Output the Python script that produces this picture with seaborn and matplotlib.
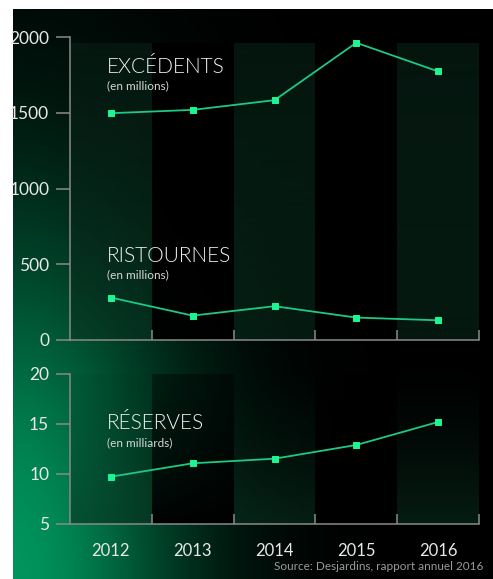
import numpy as np
import pandas as pd
import matplotlib
matplotlib.use("Agg")
import matplotlib.pyplot as plt
import seaborn as sns

# ---- data ----
years = [2012, 2013, 2014, 2015, 2016]
excedents = [1497, 1519, 1583, 1962, 1773]      # millions
ristournes = [280, 161, 223, 148, 130]           # millions
reserves = [9.73, 11.07, 11.53, 12.9, 15.2]      # milliards
source_text = "Source: Desjardins, rapport annuel 2016"

W, H = 493, 579
DPI = 100
sns.set_theme(style="white")
plt.rcParams['font.family'] = ['Lato', 'DejaVu Sans']

fig = plt.figure(figsize=(W / DPI, H / DPI), dpi=DPI)
fig.patch.set_facecolor("white")

def fx(x):
    return x / W

def fy(y):
    return 1 - y / H

# ---- background panel with glow ----
px0, py0 = 13, 9
bg = fig.add_axes([fx(px0), 0, 1 - fx(px0), fy(py0)])
bg.set_axis_off()
xs = np.arange(px0, W) + 0.5
ys = np.arange(py0, H) + 0.5
X, Y = np.meshgrid(xs, ys)
dx = (X - px0) / 250.0
dy = (H - Y) / 540.0
r2 = dx ** 2 + dy ** 2
f = np.exp(-r2 * 2.3)
green = np.array([0.0, 0.58, 0.36])
img = f[..., None] * green[None, None, :]
bg.imshow(img, aspect="auto", extent=(0, 1, 0, 1), origin="upper")
bg.set_xlim(0, 1)
bg.set_ylim(0, 1)

line_c = "#1ec885"
mark_c = "#1cf592"
spine_c = "#8a8a8a"
text_c = "#e8e8e8"

def band_overlay(ax, y0, y1, top_alpha_g, bot_alpha_g, top_alpha_k, bot_alpha_k):
    n = 200
    t = np.linspace(0, 1, n)[:, None]  # 0 top -> 1 bottom
    for i, yr in enumerate(years):
        arr = np.zeros((n, 1, 4))
        if i % 2 == 0:
            c0 = np.array([0.025, 0.10, 0.068])
            c1 = np.array([0.035, 0.19, 0.125])
            arr[..., :3] = (c0 + (c1 - c0) * t)[:, None, :]
            arr[..., 3] = top_alpha_g + (bot_alpha_g - top_alpha_g) * t
        else:
            arr[..., :3] = 0.0
            arr[..., 3] = top_alpha_k + (bot_alpha_k - top_alpha_k) * t
        ax.imshow(arr, aspect="auto", extent=(yr - 0.5, yr + 0.5, y0, y1),
                  origin="upper", zorder=0.5, interpolation="bilinear")

def style_axes(ax, ymin, ymax, yticks, show_years):
    ax.set_facecolor("none")
    ax.patch.set_alpha(0)
    ax.set_xlim(2011.5, 2016.5)
    ax.set_ylim(ymin, ymax)
    for s in ["top", "right"]:
        ax.spines[s].set_visible(False)
    for s in ["left", "bottom"]:
        ax.spines[s].set_color(spine_c)
        ax.spines[s].set_linewidth(1.1)
    ax.set_yticks(yticks)
    ax.set_yticklabels([str(v) for v in yticks])
    ax.tick_params(axis="y", which="major", direction="out", length=10, width=1.1,
                   color=spine_c, labelcolor=text_c, labelsize=12.5, pad=5, left=True)
    ax.set_xticks(years)
    ax.set_xticks([y + 0.5 for y in years], minor=True)
    ax.tick_params(axis="x", which="minor", direction="in", length=7, width=1.1,
                   color=spine_c, bottom=True)
    ax.tick_params(axis="x", which="major", length=0, labelcolor=text_c,
                   labelsize=12, pad=14)
    if show_years:
        ax.set_xticklabels([str(y) for y in years])
    else:
        ax.set_xticklabels([])
    ax.set_xlabel("")
    ax.set_ylabel("")
    ax.grid(False)

def draw_series(ax, vals):
    df = pd.DataFrame({"year": years, "value": vals})
    sns.lineplot(data=df, x="year", y="value", ax=ax, color=line_c, linewidth=1.3,
                 marker="s", markersize=5, markerfacecolor=mark_c,
                 markeredgecolor=mark_c, zorder=3)

# ---- top axes ----
ax1 = fig.add_axes([fx(70), fy(340), fx(479) - fx(70), fy(37) - fy(340)])
band_overlay(ax1, 0, 1958, 0.85, 0.5, 0.97, 0.95)
draw_series(ax1, excedents)
draw_series(ax1, ristournes)
style_axes(ax1, 0, 2000, [0, 500, 1000, 1500, 2000], False)

# ---- bottom axes ----
ax2 = fig.add_axes([fx(70), fy(524), fx(479) - fx(70), fy(374) - fy(524)])
band_overlay(ax2, 5, 20, 0.05, 0.6, 0.4, 0.97)
draw_series(ax2, reserves)
style_axes(ax2, 5, 20, [5, 10, 15, 20], True)

# ---- titles ----
def title(x, y, big, small, ysmall):
    fig.text(fx(x), fy(y), big, color="#f2f2f2", fontsize=15, fontweight=300,
             va="baseline", ha="left")
    fig.text(fx(x), fy(ysmall), small, color="#d8d8d8", fontsize=8.5,
             va="baseline", ha="left")

title(107, 73, "EXCÉDENTS", "(en millions)", 89)
title(107, 262, "RISTOURNES", "(en millions)", 278)
title(107, 429, "RÉSERVES", "(en milliards)", 446)

fig.text(fx(483), fy(570), source_text, color="#9a9a9a", fontsize=8.5,
         ha="right", va="baseline")

fig.savefig("out.png", dpi=DPI, facecolor="white")
